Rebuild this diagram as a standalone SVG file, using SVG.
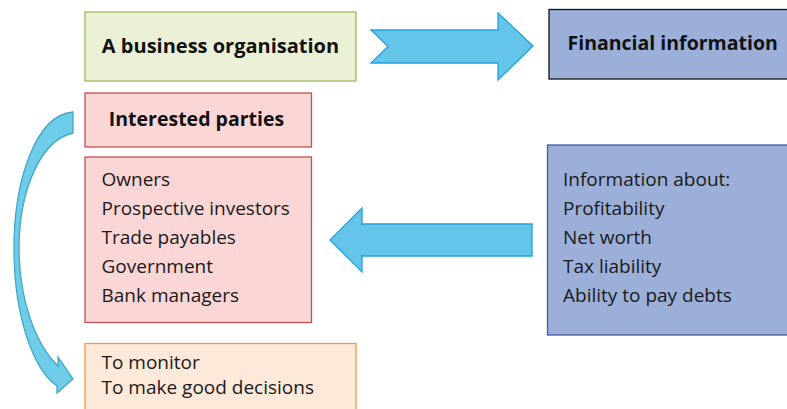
<svg xmlns="http://www.w3.org/2000/svg" width="787" height="409" viewBox="0 0 787 409">
  <style>
    .lbl { font-family: "Open Sans", "Noto Sans", sans-serif; fill: #111; }
    .bold { font-weight: 700; font-size: 19.5px; }
    .reg { font-size: 19px; fill: #1a1a1a; }
    .arrow { fill: #64c4ea; stroke: #1fa3dc; stroke-width: 1.3; stroke-linejoin: miter; }
    .curve { fill: #6fcde9; stroke: #3ea8c6; stroke-width: 1.3; stroke-linejoin: miter; }
  </style>

  <!-- Business box -->
  <g id="business">
    <rect x="85" y="12" width="271" height="69" fill="#ebf1d6" stroke="#9bbb59" stroke-width="1.3"/>
    <text class="lbl bold" x="220.5" y="53" text-anchor="middle" style="font-size:20px">A business organisation</text>
  </g>

  <!-- Financial information box -->
  <g id="financial">
    <rect x="549" y="9.5" width="245" height="69.5" fill="#9bafd8" stroke="#111" stroke-width="1.3"/>
    <text class="lbl bold" x="567.5" y="50">Financial information</text>
  </g>

  <!-- Interested parties heading -->
  <g id="parties">
    <rect x="85" y="93" width="226.5" height="54" fill="#fbd6d6" stroke="#c0504d" stroke-width="1.3"/>
    <text class="lbl bold" x="196.5" y="126" text-anchor="middle">Interested parties</text>
  </g>

  <!-- List of interested parties -->
  <g id="party-list">
    <rect x="85" y="157" width="226.5" height="165.5" fill="#fbd6d6" stroke="#c0504d" stroke-width="1.3"/>
    <text class="lbl reg" x="101.5" y="186">Owners</text>
    <text class="lbl reg" x="101.5" y="215">Prospective investors</text>
    <text class="lbl reg" x="101.5" y="244">Trade payables</text>
    <text class="lbl reg" x="101.5" y="273">Government</text>
    <text class="lbl reg" x="101.5" y="302">Bank managers</text>
  </g>

  <!-- Information details -->
  <g id="info">
    <rect x="547.5" y="145" width="246" height="190" fill="#9bafd8" stroke="#3f5f9e" stroke-width="1.3"/>
    <text class="lbl reg" x="563" y="186">Information about:</text>
    <text class="lbl reg" x="563" y="215">Profitability</text>
    <text class="lbl reg" x="563" y="244">Net worth</text>
    <text class="lbl reg" x="563" y="273">Tax liability</text>
    <text class="lbl reg" x="563" y="302">Ability to pay debts</text>
  </g>

  <!-- Purposes -->
  <g id="purpose">
    <rect x="85" y="343.5" width="271" height="80" fill="#fde9d9" stroke="#f79646" stroke-width="1.3"/>
    <text class="lbl reg" x="101.5" y="368.5">To monitor</text>
    <text class="lbl reg" x="101.5" y="393.5">To make good decisions</text>
  </g>

  <!-- Connectors -->
  <g id="connectors">
    <!-- notched arrow: business -> financial information -->
    <path class="arrow" d="M371,30 L498,30 L498,13 L533,46 L498,80 L498,63 L371,63 L388,46.5 Z"/>
    <!-- block arrow: information -> interested parties -->
    <path class="arrow" d="M532,224 L362,224 L362,208 L330,240 L362,272 L362,256 L532,256 Z"/>
    <!-- curved arrow: interested parties -> purposes -->
    <path class="curve" d="M73,112 C35,115 14,182 14,248 C14,318 34,370 57,386 L57,393 L73,379 L58,357 L58,366 C37,346 19,302 19,248 C19,192 40,140 73,133 Z"/>
  </g>
</svg>
